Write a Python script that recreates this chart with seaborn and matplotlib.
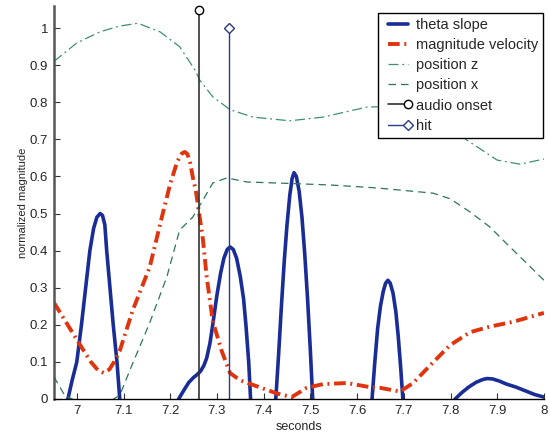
"""
Normalized motion features around a drum hit: theta slope, magnitude velocity,
positions z/x, with audio onset and hit markers.
"""

import matplotlib
matplotlib.use('Agg')
import matplotlib.pyplot as plt
import seaborn as sns

# theta slope (drops below zero between peaks, clipped by the axis)
theta_t = [6.955, 6.981, 6.99, 7.0, 7.01, 7.019, 7.028, 7.036, 7.043, 7.05, 7.055, 7.06,
           7.064, 7.071, 7.078, 7.086, 7.092, 7.105,
           7.2, 7.218, 7.23, 7.24, 7.25, 7.257, 7.265, 7.272, 7.278, 7.285, 7.291, 7.3,
           7.308, 7.315, 7.322, 7.328, 7.335, 7.342, 7.35, 7.357, 7.362, 7.368, 7.372, 7.385,
           7.41, 7.426, 7.432, 7.438, 7.444, 7.45, 7.456, 7.461, 7.465, 7.47, 7.476, 7.482,
           7.488, 7.494, 7.5, 7.505, 7.52,
           7.62, 7.632, 7.638, 7.644, 7.65, 7.656, 7.661, 7.666, 7.671, 7.677, 7.683, 7.688,
           7.693, 7.698, 7.71,
           7.795, 7.81, 7.825, 7.84, 7.855, 7.868, 7.878, 7.89, 7.905, 7.92, 7.94, 7.96,
           7.98, 8.0]
theta_v = [-0.2, 0.0, 0.05, 0.1, 0.2, 0.3, 0.4, 0.46, 0.49, 0.50, 0.495, 0.47,
           0.4, 0.3, 0.2, 0.1, 0.0, -0.2,
           -0.1, 0.0, 0.025, 0.045, 0.058, 0.065, 0.075, 0.09, 0.11, 0.15, 0.2, 0.28,
           0.34, 0.38, 0.403, 0.41, 0.403, 0.38, 0.33, 0.27, 0.2, 0.1, 0.0, -0.15,
           -0.3, 0.0, 0.12, 0.25, 0.37, 0.47, 0.55, 0.595, 0.61, 0.6, 0.56, 0.49,
           0.39, 0.27, 0.13, 0.0, -0.3,
           -0.2, 0.0, 0.1, 0.19, 0.25, 0.29, 0.312, 0.32, 0.312, 0.285, 0.235, 0.17,
           0.09, 0.0, -0.15,
           -0.05, 0.0, 0.018, 0.033, 0.045, 0.052, 0.055, 0.054, 0.048, 0.04, 0.032, 0.022,
           0.012, 0.005]

# magnitude velocity
mag_t = [6.951, 7.0, 7.03, 7.045, 7.058, 7.07, 7.08, 7.092, 7.12, 7.156, 7.184, 7.2,
         7.215, 7.225, 7.231, 7.237, 7.243, 7.248, 7.255, 7.262, 7.27, 7.278, 7.291, 7.31,
         7.328, 7.35, 7.377, 7.428, 7.46, 7.492, 7.527, 7.578, 7.627, 7.649, 7.692, 7.72,
         7.756, 7.799, 7.842, 7.884, 7.934, 8.0]
mag_v = [0.26, 0.16, 0.1, 0.078, 0.07, 0.08, 0.1, 0.13, 0.24, 0.355, 0.50, 0.58,
         0.64, 0.662, 0.666, 0.66, 0.635, 0.6, 0.56, 0.5, 0.43, 0.33, 0.21, 0.13,
         0.07, 0.05, 0.038, 0.015, 0.005, 0.03, 0.04, 0.043, 0.032, 0.03, 0.02, 0.043,
         0.09, 0.145, 0.18, 0.195, 0.208, 0.232]

# position z
posz_t = [6.951, 7.0, 7.05, 7.09, 7.131, 7.178, 7.22, 7.253, 7.263, 7.291, 7.328, 7.377,
          7.456, 7.527, 7.621, 7.7, 7.77, 7.835, 7.9, 7.949, 8.0]
posz_v = [0.91, 0.96, 0.99, 1.005, 1.013, 0.99, 0.95, 0.887, 0.86, 0.815, 0.78, 0.76,
          0.75, 0.76, 0.787, 0.79, 0.76, 0.698, 0.644, 0.633, 0.647]

# position x
posx_t = [6.951, 6.974, 6.99, 7.04, 7.092, 7.12, 7.156, 7.193, 7.22, 7.248, 7.27, 7.291,
          7.321, 7.364, 7.435, 7.542, 7.642, 7.762, 7.799, 7.842, 7.884, 7.927, 7.963, 8.0]
posx_v = [0.06, 0.01, 0.0, -0.03, 0.01, 0.097, 0.205, 0.33, 0.455, 0.49, 0.536, 0.582,
          0.596, 0.585, 0.582, 0.577, 0.569, 0.555, 0.54, 0.504, 0.464, 0.41, 0.366, 0.32]

# events (stems)
onset_t, onset_v = 7.261, 1.05
hit_t, hit_v = 7.326, 1.0

sns.set_style('white')
plt.rcParams['font.family'] = ['Liberation Sans', 'DejaVu Sans']

fig = plt.figure(figsize=(5.5, 4.32), dpi=100)
ax = fig.add_axes([0.098, 0.0765, 0.891, 0.91])

sns.lineplot(x=theta_t, y=theta_v, ax=ax, color='#1a2d96', linewidth=2.6,
             label='theta slope', sort=False)
sns.lineplot(x=mag_t, y=mag_v, ax=ax, color='#e0340f', linewidth=2.8,
             label='magnitude velocity', sort=False)
ax.lines[-1].set_linestyle((0, (3.0, 1.2, 0.5, 1.2)))
sns.lineplot(x=posz_t, y=posz_v, ax=ax, color='#3f8f6f', linewidth=0.9,
             label='position z', sort=False)
ax.lines[-1].set_linestyle((0, (8, 3, 1.5, 3)))
sns.lineplot(x=posx_t, y=posx_v, ax=ax, color='#2f7555', linewidth=0.9,
             label='position x', sort=False)
ax.lines[-1].set_linestyle((0, (6, 4)))

ax.plot([onset_t, onset_t], [0, onset_v], color='#333333', linewidth=1.2,
        marker='o', markevery=[1], markersize=6, markerfacecolor='white',
        markeredgecolor='black', label='audio onset', clip_on=False)
ax.plot([hit_t, hit_t], [0, hit_v], color='#2a3a8a', linewidth=1.0,
        marker='D', markevery=[1], markersize=5, markerfacecolor='white',
        markeredgecolor='#2a3a8a', label='hit', clip_on=False)

ax.set_xlim(6.951, 8.0)
ax.set_ylim(0, 1.06)
ax.set_xticks([7, 7.1, 7.2, 7.3, 7.4, 7.5, 7.6, 7.7, 7.8, 7.9, 8])
ax.set_xticklabels(['7', '7.1', '7.2', '7.3', '7.4', '7.5', '7.6', '7.7', '7.8', '7.9', '8'])
ax.set_yticks([0, 0.1, 0.2, 0.3, 0.4, 0.5, 0.6, 0.7, 0.8, 0.9, 1])
ax.set_yticklabels(['0', '0.1', '0.2', '0.3', '0.4', '0.5', '0.6', '0.7', '0.8', '0.9', '1'])
ax.tick_params(direction='in', length=4, width=0.8, labelsize=9.5, pad=4,
               left=True, bottom=True, color='#333333')

for side in ['top', 'right']:
    ax.spines[side].set_visible(False)
ax.spines['left'].set_color('#555555')
ax.spines['left'].set_linewidth(1.8)
ax.spines['bottom'].set_color('black')
ax.spines['bottom'].set_linewidth(1.0)

ax.set_xlabel('seconds', fontsize=9)
ax.xaxis.set_label_coords(0.5, -0.056)
ax.set_ylabel('normalized magnitude', fontsize=8)
ax.yaxis.set_label_coords(-0.052, 0.5)

leg = ax.legend(loc='upper right', bbox_to_anchor=(0.999, 0.982), fontsize=10.5,
                numpoints=2, handlelength=2.0, handletextpad=0.25, labelspacing=0.42,
                borderpad=0.35, fancybox=False, framealpha=1, edgecolor='black',
                borderaxespad=0)
leg.get_frame().set_linewidth(1.0)
# stem markers only at the right end of the legend handle
for ln in leg.get_lines()[4:]:
    ln.set_markevery([1])

plt.savefig('out.png', dpi=100)
plt.close()
